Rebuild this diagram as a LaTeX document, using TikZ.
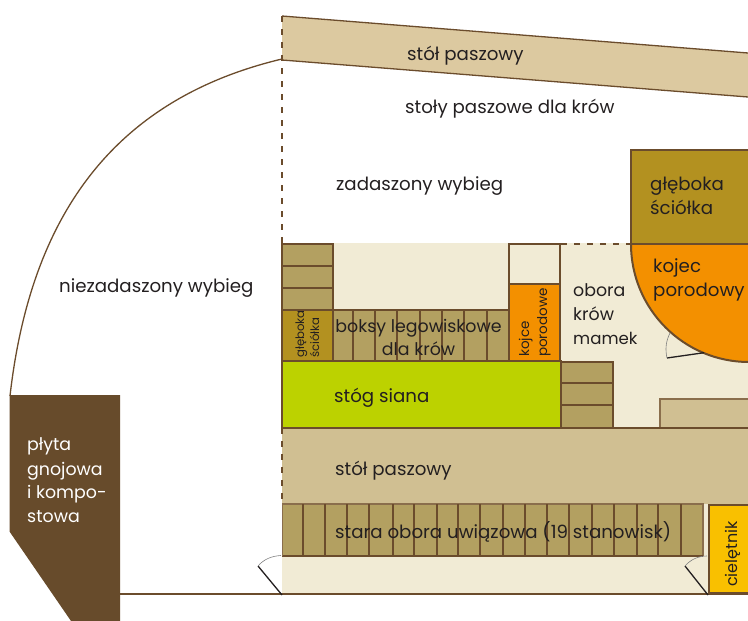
\documentclass[tikz,border=0pt]{standalone}
\usepackage{fontspec}
\setmainfont{Poppins}
\definecolor{brn}{HTML}{6B4C2C}
\definecolor{brnthin}{HTML}{8A6E4C}
\definecolor{manure}{HTML}{674B2B}
\definecolor{cream}{HTML}{F1EBD5}
\definecolor{tabl}{HTML}{DCC9A0}
\definecolor{tabll}{HTML}{D0BF92}
\definecolor{stall}{HTML}{B3A061}
\definecolor{bedd}{HTML}{B39120}
\definecolor{orng}{HTML}{F39000}
\definecolor{hay}{HTML}{BCD200}
\definecolor{calf}{HTML}{F9C000}
\definecolor{ink}{HTML}{231F20}
\tikzset{
 x=1pt,y=-1pt,
 wall/.style={draw=brn,line width=2pt},
 thin wall/.style={draw=brn,line width=1.3pt},
 dash wall/.style={draw=brn,line width=2pt,dash pattern=on 6pt off 7pt},
 door/.style={draw=ink,line width=1.3pt},
 swing/.style={draw=gray,line width=0.6pt},
 lab/.style={anchor=base west,inner sep=0pt,text=ink,font=\fontsize{18.2}{20}\selectfont},
 labc/.style={lab,anchor=base},
 vlab/.style={lab,rotate=90},
 small/.style={font=\fontsize{11.7}{13}\selectfont},
 medium/.style={font=\fontsize{13.5}{15}\selectfont},
 sized/.style={font=\fontsize{17.4}{20}\selectfont},
 whit/.style={lab,text=white,sized}
}
\begin{document}
\begin{tikzpicture}
\useasboundingbox (0,0) rectangle (748,621);
% top table
\fill[tabl] (282,16) -- (748,53) -- (748,97) -- (282,60) -- cycle;
\draw[thin wall] (282,16) -- (748,53);
\draw[thin wall] (282,60) -- (748,97);
\draw[dash wall] (282,16) -- (282,243);
% uncovered yard curve
\draw[thin wall] (10,396) .. controls (30,220) and (110,100) .. (282,59);
% cream
\fill[cream] (282,243) rectangle (561,310);
\fill[cream] (561,243) rectangle (748,428);
\fill[cream] (282,556) rectangle (708,594);
\fill[cream] (703,504) rectangle (708,556);
% deep bedding top right
\path[fill=bedd,wall] (749,149.5) -- (631,149.5) -- (631,244) -- (749,244);
% calving pen
\path[fill=orng] (631,244) -- (748,244) -- (748,362) arc[start angle=90,end angle=180,radius=117] -- cycle;
\draw[wall] (631,244) -- (749,244);
\draw[wall] (631,244) arc[start angle=180,end angle=90,radius=118];
\draw[door] (667,358) -- (704,352.7);
\draw[swing] (667,358) .. controls (665,349) and (666,341) .. (670,333);
\draw[dash wall] (561,243.5) -- (631,243.5);
% left stack of 3
\path[fill=stall,wall] (282,243.5) rectangle (332.5,310);
\draw[wall] (282,266) -- (332.5,266) (282,288) -- (332.5,288);
% glebo small
\path[fill=bedd,wall] (282,310) rectangle (332.5,361);
% boxes
\path[fill=stall,wall] (332.5,310) rectangle (509,361);
\foreach \x in {353,375,397,420,442,464,487} \draw[wall] (\x,310) -- (\x,361);
% kojce
\path[fill=cream,wall] (509,244) rectangle (560,284);
\path[fill=orng,wall] (509,284) rectangle (560,361);
% hay
\path[fill=hay,wall] (282,361) rectangle (561,428);
% right stack
\path[fill=stall,wall] (561,361.5) rectangle (612.5,428);
\draw[wall] (561,383) -- (612.5,383) (561,405) -- (612.5,405);
% right light box
\path[fill=tabll,draw=brnthin,line width=1.4pt] (749,399) -- (660,399) -- (660,428) -- (749,428);
% feed table
\fill[tabll] (282,428) rectangle (748,504);
\draw[wall] (281,428) -- (749,428);
\draw[dash wall] (282,428) -- (282,504);
% old barn
\fill[stall] (282,504) rectangle (703,556);
\draw[draw=brnthin,line width=1.4pt] (282,504) -- (703,504) -- (703,556);
\draw[wall] (282,556) -- (703,556);
\foreach \x in {303,325,347,369,393,414,437,458,480,503,525,547,569,592,614,637,658,681} \draw[wall] (\x,504) -- (\x,556);
\draw[draw=brnthin,line width=1pt] (282,504) -- (282,556);
% calf pen
\fill[calf] (708,505) rectangle (748,593);
\draw[wall] (749,504.5) -- (708.5,504.5) -- (708.5,593);
\draw[draw=brn,line width=3pt] (708,593) -- (749,593);
% bottom line
\draw[thin wall] (120,594) -- (708,594);
% doors
\draw[door] (258,566) -- (282,595);
\draw[swing] (258,566) .. controls (264,559) and (272,556) .. (281,555.5);
\draw[door] (685,566) -- (708,595);
\draw[swing] (685,566) .. controls (691,559) and (699,556) .. (707,556);
% manure pad
\fill[manure] (9.5,395) -- (120,395) -- (120,621) -- (71,621) -- (9.5,531.5) -- cycle;
% labels
\node[lab] (t1) at (407,60) {stół paszowy};
\node[lab] (t2) at (405,113) {stoły paszowe dla krów};
\node[lab] (t3) at (336,190) {zadaszony wybieg};
\node[lab] (t4) at (59,292) {niezadaszony wybieg};
\node[lab] (t5) at (650,190) {głęboka};
\node[lab] (t6) at (650,214) {ściółka};
\node[lab] (t7) at (653,272.5) {kojec};
\node[lab] (t8) at (653,296.5) {porodowy};
\node[lab,sized] (t9) at (573,296) {obora};
\node[lab,sized] (t10) at (573,320) {krów};
\node[lab,font=\fontsize{16.6}{20}\selectfont] (t11) at (573,344) {mamek};
\node[labc,sized] (t12) at (418.5,332) {boksy legowiskowe};
\node[labc,sized] (t13) at (418.5,355) {dla krów};
\node[lab] (t14) at (334,402) {stóg siana};
\node[lab] (t15) at (335,475) {stół paszowy};
\node[lab] (t16) at (335,538) {stara obora uwiązowa (19 stanowisk)};
\node[vlab,font=\fontsize{16}{18}\selectfont] (t17) at (737,587) {cielętnik};
\node[vlab,medium] (t18) at (529,357) {kojce};
\node[vlab,medium] (t19) at (547,357) {porodowe};
\node[vlab,small] (t20) at (304,358) {głęboka};
\node[vlab,small] (t21) at (319,358) {ściółka};
\node[whit] (t22) at (27,450) {płyta};
\node[whit] (t23) at (27,475) {gnojowa};
\node[whit] (t24) at (27,498) {i kompo-};
\node[whit] (t25) at (27,522) {stowa};
\end{tikzpicture}
\end{document}
